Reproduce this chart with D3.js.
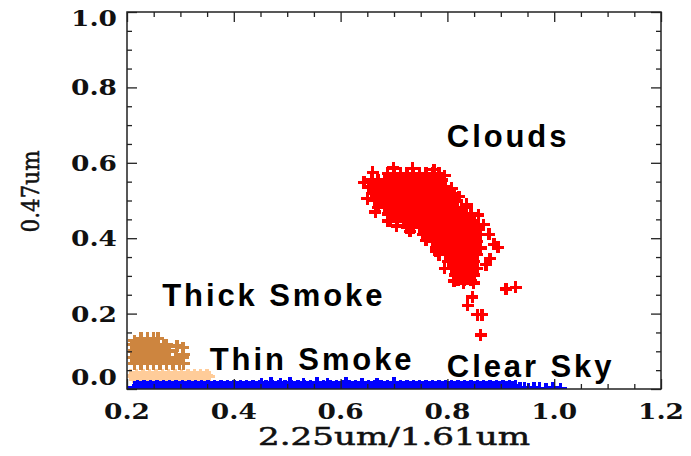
<!DOCTYPE html>
<html>
<head>
<meta charset="utf-8">
<script src="https://cdn.jsdelivr.net/npm/d3@7"></script>
<style>
  html, body { margin: 0; padding: 0; background: #fff; }
  svg { display: block; }
  .tick-label { font-family: "DejaVu Serif", serif; font-weight: bold; font-size: 23px; fill: #111; }
  .axis-title { font-family: "DejaVu Serif", serif; font-weight: normal; font-size: 24px; fill: #111; stroke: #111; stroke-width: 0.5px; }
  .note { font-family: "Liberation Sans", Arial, sans-serif; font-weight: bold; font-size: 31px; letter-spacing: 2.9px; fill: #000; }
</style>
</head>
<body>
<svg id="chart" width="691" height="456"></svg>
<script>
// Axis ticks
const xTicks = [0.2, 0.4, 0.6, 0.8, 1.0, 1.2];
const yTicks = [0.0, 0.2, 0.4, 0.6, 0.8, 1.0];
const xTitle = "2.25um/1.61um";
const yTitle = "0.47um";

// Cloud pixels: rows of [0.47um value, list of 2.25/1.61 ratios]
const cloudRows = [
  [0.572, [0.688,0.700,0.712,0.724,0.736,0.748,0.760,0.772,0.784]],
  [0.554, [0.658,0.670,0.682,0.694,0.706,0.718,0.730,0.742,0.754,0.766,0.778,0.790]],
  [0.536, [0.652,0.664,0.676,0.688,0.700,0.712,0.724,0.736,0.748,0.760,0.772,0.784,0.796]],
  [0.518, [0.658,0.670,0.682,0.694,0.706,0.718,0.730,0.742,0.754,0.766,0.778,0.790,0.802,0.812]],
  [0.500, [0.664,0.676,0.688,0.700,0.712,0.724,0.736,0.748,0.760,0.772,0.784,0.796,0.808,0.818]],
  [0.482, [0.670,0.682,0.694,0.706,0.718,0.730,0.742,0.754,0.766,0.778,0.790,0.802,0.814,0.826,0.836]],
  [0.464, [0.688,0.700,0.712,0.724,0.736,0.748,0.760,0.772,0.784,0.796,0.808,0.820,0.832,0.844]],
  [0.446, [0.694,0.706,0.718,0.730,0.742,0.754,0.766,0.778,0.790,0.802,0.814,0.826,0.838,0.850]],
  [0.428, [0.724,0.736,0.748,0.760,0.772,0.784,0.796,0.808,0.820,0.832,0.844,0.856]],
  [0.410, [0.754,0.766,0.778,0.790,0.802,0.814,0.826,0.838,0.850,0.862]],
  [0.392, [0.772,0.784,0.796,0.808,0.820,0.832,0.844,0.856]],
  [0.374, [0.778,0.790,0.802,0.814,0.826,0.838,0.850,0.862]],
  [0.356, [0.784,0.796,0.808,0.820,0.832,0.844,0.856]],
  [0.338, [0.802,0.814,0.826,0.838,0.850]],
  [0.320, [0.808,0.820,0.832,0.844,0.856]],
  [0.302, [0.814,0.826,0.838,0.850]],
  [0.288, [0.820,0.832,0.844]]
];
// Scattered cloud pixels around the main cluster
const cloudScatter = [
  [0.644,0.548],[0.660,0.575],[0.699,0.586],[0.735,0.585],[0.775,0.582],[0.795,0.566],
  [0.808,0.532],[0.822,0.510],[0.836,0.490],[0.858,0.462],[0.868,0.436],[0.878,0.410],
  [0.887,0.384],[0.895,0.376],[0.880,0.346],[0.872,0.330],[0.849,0.281],[0.830,0.280],
  [0.812,0.286],[0.795,0.320],[0.778,0.366],[0.760,0.394],[0.730,0.418],[0.705,0.432],
  [0.688,0.446],[0.665,0.470],[0.650,0.505],
  [0.910,0.265],[0.928,0.270],[0.847,0.244],[0.838,0.222],[0.856,0.197],[0.865,0.197],
  [0.862,0.143]
];

// Thick smoke pixels
const thickRows = [
  [0.134, [0.226,0.238,0.250,0.258]],
  [0.118, [0.208,0.220,0.232,0.244,0.256,0.268,0.274]],
  [0.101, [0.214,0.226,0.238,0.250,0.262,0.274,0.280]],
  [0.084, [0.208,0.220,0.232,0.244,0.256,0.268,0.280,0.292,0.304]],
  [0.067, [0.214,0.226,0.238,0.250,0.262,0.274,0.286,0.298,0.306]]
];
const thickScatter = [[0.214,0.128],[0.294,0.114],[0.305,0.110],[0.306,0.092]];

// Thin smoke pixels
const thinRows = [
  [0.036, [0.206,0.218,0.230,0.242,0.254,0.266,0.278,0.290,0.302,0.314,0.326,0.338,0.350]],
  [0.033, [0.212,0.224,0.236,0.248,0.260,0.272,0.284,0.296,0.308,0.320,0.332,0.344,0.354]]
];
const thinScatter = [];

// Clear sky pixels
const clearRows = [
  [0.004, [0.214,0.226,0.238,0.250,0.262,0.274,0.286,0.298,0.310,0.322,0.334,0.346,0.358,0.370,0.382,0.394,0.406,0.418,0.430,0.442,0.454,0.466,0.478,0.490,0.502,0.514,0.526,0.538,0.550,0.562,0.574,0.586,0.598,0.610,0.622,0.634,0.646,0.658,0.670,0.682,0.694,0.706,0.718,0.730,0.742,0.754,0.766,0.778,0.790,0.802,0.814,0.826,0.838,0.850,0.862,0.874,0.886,0.898,0.910,0.922]],
  [0.009, [0.220,0.232,0.244,0.256,0.268,0.280,0.292,0.304,0.316,0.328,0.340,0.352,0.364,0.376,0.388,0.400,0.412,0.424,0.436,0.448,0.460,0.472,0.484,0.496,0.508,0.520,0.532,0.544,0.556,0.568,0.580,0.592,0.604,0.616,0.628,0.640,0.652,0.664,0.676,0.688,0.700,0.712,0.724,0.736,0.748,0.760,0.772,0.784,0.796,0.808,0.820,0.832,0.844,0.856,0.868,0.880,0.892,0.904,0.916,0.928]]
];
const clearScatter = [
  [0.452,0.014],[0.470,0.016],[0.488,0.013],[0.505,0.015],[0.530,0.014],[0.556,0.016],
  [0.575,0.013],[0.610,0.015],[0.640,0.014],[0.668,0.013],[0.700,0.015],
  [0.936,0.002],[0.944,0.003],[0.952,0.001],[0.962,0.003],[0.972,0.002],[0.985,0.001],
  [0.998,0.003],[1.012,0.001]
];

// Class labels placed in data space
const notes = [
  { text: "Clouds",      x: 0.799, y: 0.642 },
  { text: "Thick Smoke", x: 0.266, y: 0.220 },
  { text: "Thin Smoke",  x: 0.355, y: 0.050 },
  { text: "Clear Sky",   x: 0.799, y: 0.032 }
];

const classes = [
  { name: "thin",   rows: thinRows,   scatter: thinScatter,   color: "#ffcc99" },
  { name: "clear",  rows: clearRows,  scatter: clearScatter,  color: "#0000ff" },
  { name: "thick",  rows: thickRows,  scatter: thickScatter,  color: "#cd853f" },
  { name: "clouds", rows: cloudRows,  scatter: cloudScatter,  color: "#ff0000" }
];

const plotLeft = 127, plotRight = 661, plotTop = 12, plotBottom = 389;
const svg = d3.select("#chart");
svg.append("rect").attr("width", 691).attr("height", 456).attr("fill", "#fff");

const x = d3.scaleLinear().domain([0.2, 1.2]).range([plotLeft, plotRight]);
const y = d3.scaleLinear().domain([0, 1]).range([plotBottom, plotTop]);

svg.append("defs").append("clipPath").attr("id", "plot-clip")
  .append("rect").attr("x", plotLeft).attr("y", plotTop)
  .attr("width", plotRight - plotLeft).attr("height", plotBottom - plotTop);

// '+' plot symbol
const plus = "M-6,0H6M0,-6V6";
const marks = svg.append("g").attr("clip-path", "url(#plot-clip)");
classes.forEach(c => {
  const pts = c.rows.flatMap(([yv, xs]) => xs.map(xv => [xv, yv])).concat(c.scatter);
  marks.append("g").attr("class", c.name)
    .selectAll("path").data(pts).join("path")
    .attr("d", plus)
    .attr("transform", d => `translate(${x(d[0])},${y(d[1])})`)
    .attr("stroke", c.color).attr("stroke-width", 3.4).attr("fill", "none")
    .attr("shape-rendering", "crispEdges");
});

// Axes: major and minor ticks pointing inward on all four sides
const xMinor = x.ticks(20).filter(v => !xTicks.some(t => Math.abs(t - v) < 1e-9));
const yMinor = y.ticks(20).filter(v => !yTicks.some(t => Math.abs(t - v) < 1e-9));
const axisStyle = g => {
  g.select(".domain").remove();
  g.selectAll("line").attr("stroke", "#222").attr("stroke-width", 1.3);
  g.selectAll("text").remove();
};
svg.append("g").attr("transform", `translate(0,${plotBottom})`).call(d3.axisBottom(x).tickValues(xTicks).tickSize(-10)).call(axisStyle);
svg.append("g").attr("transform", `translate(0,${plotBottom})`).call(d3.axisBottom(x).tickValues(xMinor).tickSize(-5)).call(axisStyle);
svg.append("g").attr("transform", `translate(0,${plotTop})`).call(d3.axisTop(x).tickValues(xTicks).tickSize(-10)).call(axisStyle);
svg.append("g").attr("transform", `translate(0,${plotTop})`).call(d3.axisTop(x).tickValues(xMinor).tickSize(-5)).call(axisStyle);
svg.append("g").attr("transform", `translate(${plotLeft},0)`).call(d3.axisLeft(y).tickValues(yTicks).tickSize(-10)).call(axisStyle);
svg.append("g").attr("transform", `translate(${plotLeft},0)`).call(d3.axisLeft(y).tickValues(yMinor).tickSize(-5)).call(axisStyle);
svg.append("g").attr("transform", `translate(${plotRight},0)`).call(d3.axisRight(y).tickValues(yTicks).tickSize(-10)).call(axisStyle);
svg.append("g").attr("transform", `translate(${plotRight},0)`).call(d3.axisRight(y).tickValues(yMinor).tickSize(-5)).call(axisStyle);

svg.append("rect").attr("x", plotLeft).attr("y", plotTop)
  .attr("width", plotRight - plotLeft).attr("height", plotBottom - plotTop)
  .attr("fill", "none").attr("stroke", "#222").attr("stroke-width", 1.5);

// Tick labels (wide serif digits)
svg.append("g").selectAll("text").data(xTicks).join("text")
  .attr("class", "tick-label").attr("text-anchor", "middle")
  .attr("x", d => x(d)).attr("y", plotBottom + 30)
  .attr("textLength", 46).attr("lengthAdjust", "spacingAndGlyphs")
  .text(d => d.toFixed(1));
svg.append("g").selectAll("text").data(yTicks).join("text")
  .attr("class", "tick-label").attr("text-anchor", "end")
  .attr("x", plotLeft - 10)
  .attr("y", d => Math.min(Math.max(y(d), plotTop + 6), plotBottom - 12) + 8)
  .attr("textLength", 46).attr("lengthAdjust", "spacingAndGlyphs")
  .text(d => d.toFixed(1));

// Axis titles
svg.append("text").attr("class", "axis-title").attr("text-anchor", "middle")
  .attr("x", (plotLeft + plotRight) / 2).attr("y", plotBottom + 56)
  .attr("textLength", 272).attr("lengthAdjust", "spacingAndGlyphs")
  .text(xTitle);
svg.append("text").attr("class", "axis-title").attr("text-anchor", "middle")
  .attr("transform", `translate(39,${(plotTop + plotBottom) / 2 - 9}) rotate(-90)`)
  .attr("textLength", 82).attr("lengthAdjust", "spacingAndGlyphs")
  .text(yTitle);

// Class labels
svg.append("g").selectAll("text").data(notes).join("text")
  .attr("class", "note")
  .attr("x", d => x(d.x)).attr("y", d => y(d.y))
  .text(d => d.text);
</script>
</body>
</html>
